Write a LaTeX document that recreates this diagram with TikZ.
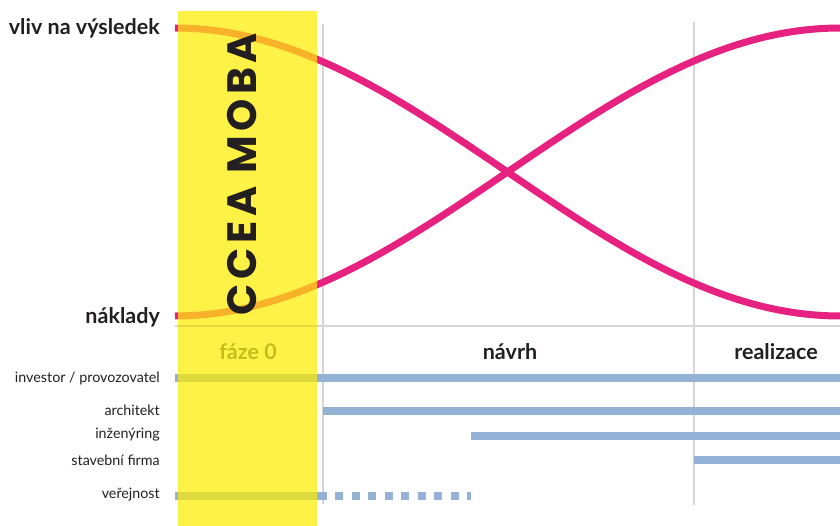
\documentclass[tikz,border=0pt]{standalone}
\usepackage{fontspec}
\setmainfont{Lato}
\newfontfamily\geo{Poppins}
\definecolor{mag}{RGB}{230,33,127}
\definecolor{org}{RGB}{247,178,42}
\definecolor{ylw}{RGB}{255,242,70}
\definecolor{barc}{RGB}{148,178,214}
\definecolor{barY}{RGB}{221,218,62}
\definecolor{gridc}{RGB}{214,214,214}
\definecolor{olive}{RGB}{198,188,30}
\definecolor{ink}{RGB}{35,31,32}
\tikzset{
  curve/.style={line width=7pt},
  barline/.style={line width=8pt, line cap=butt},
  gridline/.style={draw=gridc, line width=1.6pt},
  biglabel/.style={font=\fontsize{21.5}{24}\selectfont\bfseries, text=ink, inner sep=0pt},
  rowlabel/.style={font=\fontsize{14.3}{17}\selectfont, text=ink, inner sep=0pt, anchor=east},
  phaselabel/.style={font=\fontsize{21.5}{24}\selectfont\bfseries, text=ink, inner sep=0pt}
}
\newcommand{\impactcurve}[1]{\draw[curve,#1] plot[domain=0:180,samples=100] ({175+3.69444*\x},{172-144*cos(\x)});}
\newcommand{\costcurve}[1]{\draw[curve,#1] plot[domain=0:180,samples=100] ({175+3.69444*\x},{172+144*cos(\x)});}
\newcommand{\allbars}[1]{%
  \draw[barline,#1] (b1s) -- (b1e);
  \draw[barline,#1] (b2s) -- (b2e);
  \draw[barline,#1] (b3s) -- (b3e);
  \draw[barline,#1] (b4s) -- (b4e);
  \draw[barline,#1] (b5s) -- (b5e);
  \draw[barline,#1,dash pattern=on 8pt off 8.5pt] (b6s) -- (b6e);}
\begin{document}
\begin{tikzpicture}[x=1pt,y=-1pt]
\useasboundingbox (0,0) rectangle (840,526);
% coordinates
\coordinate (b1s) at (175,378.3); \coordinate (b1e) at (840,378.3);
\coordinate (b2s) at (323,410.7); \coordinate (b2e) at (840,410.7);
\coordinate (b3s) at (471,435.5); \coordinate (b3e) at (840,435.5);
\coordinate (b4s) at (694,460.3); \coordinate (b4e) at (840,460.3);
\coordinate (b5s) at (175,495.5); \coordinate (b5e) at (327,495.5);
\coordinate (b6s) at (335,495.5); \coordinate (b6e) at (471,495.5);
\coordinate (v1t) at (323,24); \coordinate (v1b) at (323,504);
\coordinate (v2t) at (694,22); \coordinate (v2b) at (694,505);
\coordinate (axl) at (175,326); \coordinate (axr) at (840,326);
% grid lines
\draw[gridline] (v1t) -- (v1b);
\draw[gridline] (v2t) -- (v2b);
\draw[gridline] (axl) -- (axr);
% bars
\allbars{draw=barc}
% curves
\impactcurve{draw=mag}
\costcurve{draw=mag}
% yellow band
\fill[ylw] (178,11) rectangle (317,526);
\begin{scope}
  \clip (178,11) rectangle (317,526);
  \draw[draw=black,opacity=0.1,line width=1.6pt] (axl) -- (axr);
  \allbars{draw=barY}
  \impactcurve{draw=org}
  \costcurve{draw=org}
\end{scope}
% CCEA MOBA
\node[rotate=90, text=ink, inner sep=0pt, font=\geo\fontsize{41}{44}\selectfont\bfseries\addfontfeature{LetterSpace=11}] (moba) at (242,174) {CCEA MOBA};
% left labels
\node[biglabel, anchor=east] (vliv) at (160,28) {vliv na výsledek};
\node[biglabel, anchor=east] (naklady) at (160,317) {náklady};
% phase labels
\node[phaselabel, text=olive] (faze) at (248,352) {fáze 0};
\node[phaselabel] (navrh) at (510,352) {návrh};
\node[phaselabel] (realizace) at (776,352) {realizace};
% row labels
\node[rowlabel] (investor) at (160,378) {investor / provozovatel};
\node[rowlabel] (architekt) at (160,410) {architekt};
\node[rowlabel] (inzenyring) at (160,435) {inženýring};
\node[rowlabel] (stavebni) at (160,460) {stavební firma};
\node[rowlabel] (verejnost) at (160,495) {veřejnost};
\end{tikzpicture}
\end{document}
